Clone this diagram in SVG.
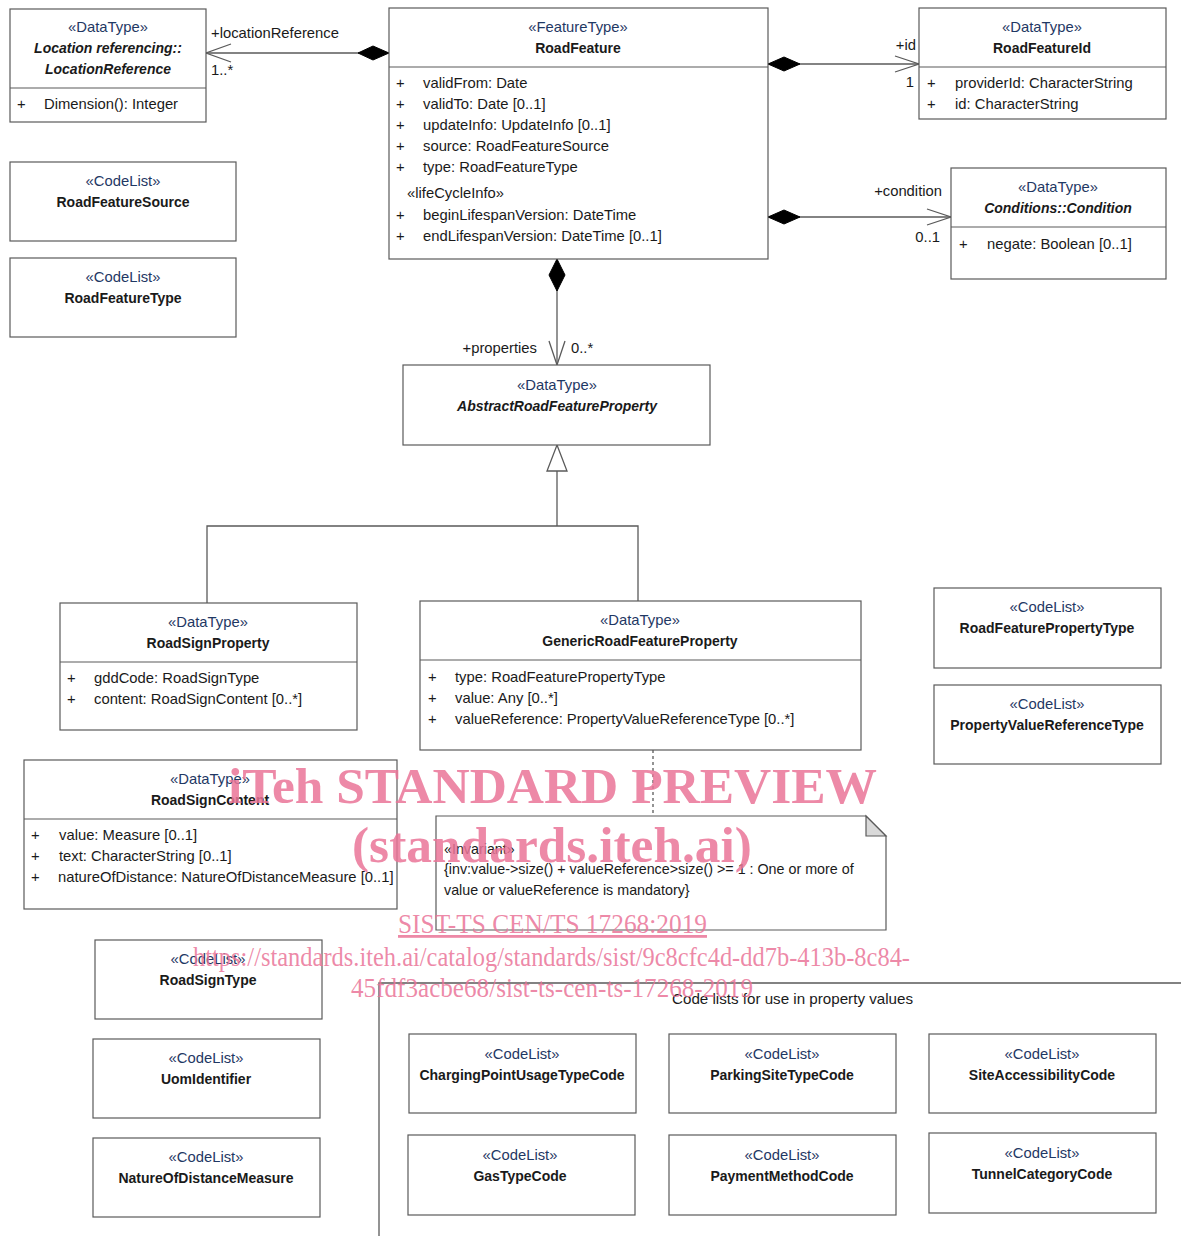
<svg xmlns="http://www.w3.org/2000/svg" width="1181" height="1236" viewBox="0 0 1181 1236">
<style>
text{font-family:"Liberation Sans",Arial,sans-serif;font-size:14.8px;fill:#1a1a1a}
.box{fill:#fff;stroke:#5a5a5a;stroke-width:1.2}
.div{stroke:#5a5a5a;stroke-width:1.2}
.st{fill:#1f3864;text-anchor:middle}
.nm{font-weight:bold;font-size:14px;text-anchor:middle}
.ab{font-weight:bold;font-style:italic;font-size:14px;text-anchor:middle}
.ln{fill:none;stroke:#5a5a5a;stroke-width:1.3}
.dia{fill:#000;stroke:#000;stroke-width:1}
.end{text-anchor:end}
.wm{font-family:"Liberation Serif","Times New Roman",serif;fill:#ea7498;fill-opacity:0.85}
.wmb{font-weight:bold;font-size:50px}
.wms{font-size:28px}
.note{font-size:14.3px}
</style>

<g id="connectors">
  <!-- locationReference -->
  <line class="ln" x1="389" y1="53" x2="206" y2="53"/>
  <polygon class="dia" points="389,53 373,46 358,53 373,60"/>
  <polyline class="ln" points="231,44 206,53 231,62"/>
  <text x="211" y="38">+locationReference</text>
  <text x="211" y="75">1..*</text>
  <!-- id -->
  <line class="ln" x1="768" y1="64" x2="919" y2="64"/>
  <polygon class="dia" points="768,64 784,57 800,64 784,71"/>
  <polyline class="ln" points="895,56 919,64 895,72"/>
  <text x="916" y="50" class="end">+id</text>
  <text x="914" y="87" class="end">1</text>
  <!-- condition -->
  <line class="ln" x1="768" y1="217" x2="951" y2="217"/>
  <polygon class="dia" points="768,217 784,210 800,217 784,224"/>
  <polyline class="ln" points="927,209 951,217 927,225"/>
  <text x="942" y="196" class="end">+condition</text>
  <text x="940" y="242" class="end">0..1</text>
  <!-- properties -->
  <line class="ln" x1="557" y1="259" x2="557" y2="365"/>
  <polygon class="dia" points="557,259 565,275 557,291 549,275"/>
  <polyline class="ln" points="549,341 557,365 565,341"/>
  <text x="537" y="353" class="end">+properties</text>
  <text x="571" y="353">0..*</text>
  <!-- generalization -->
  <polyline class="ln" points="207,603 207,526 638,526 638,601"/>
  <line class="ln" x1="557" y1="526" x2="557" y2="471"/>
  <polygon points="557,445 567,471 547,471" fill="#fff" stroke="#5a5a5a" stroke-width="1.3"/>
  <!-- note link -->
  <line x1="653" y1="750" x2="653" y2="816" stroke="#5a5a5a" stroke-width="1.3" stroke-dasharray="3,3"/>
</g>

<g id="LocationReference">
  <rect class="box" x="10" y="9" width="196" height="113"/>
  <line class="div" x1="10" y1="88" x2="206" y2="88"/>
  <text x="108" y="32" class="st">«DataType»</text>
  <text x="108" y="53" class="ab">Location referencing::</text>
  <text x="108" y="74" class="ab">LocationReference</text>
  <text x="17" y="109">+</text>
  <text x="44" y="109">Dimension(): Integer</text>
</g>

<g id="RoadFeature">
  <rect class="box" x="389" y="8" width="379" height="251"/>
  <line class="div" x1="389" y1="67" x2="768" y2="67"/>
  <text x="578" y="32" class="st">«FeatureType»</text>
  <text x="578" y="53" class="nm">RoadFeature</text>
  <text x="396" y="88">+</text><text x="423" y="88">validFrom: Date</text>
  <text x="396" y="109">+</text><text x="423" y="109">validTo: Date [0..1]</text>
  <text x="396" y="130">+</text><text x="423" y="130">updateInfo: UpdateInfo [0..1]</text>
  <text x="396" y="151">+</text><text x="423" y="151">source: RoadFeatureSource</text>
  <text x="396" y="172">+</text><text x="423" y="172">type: RoadFeatureType</text>
  <text x="407" y="198">«lifeCycleInfo»</text>
  <text x="396" y="220">+</text><text x="423" y="220">beginLifespanVersion: DateTime</text>
  <text x="396" y="241">+</text><text x="423" y="241">endLifespanVersion: DateTime [0..1]</text>
</g>

<g id="RoadFeatureId">
  <rect class="box" x="919" y="8" width="247" height="111"/>
  <line class="div" x1="919" y1="67" x2="1166" y2="67"/>
  <text x="1042" y="32" class="st">«DataType»</text>
  <text x="1042" y="53" class="nm">RoadFeatureId</text>
  <text x="927" y="88">+</text><text x="955" y="88">providerId: CharacterString</text>
  <text x="927" y="109">+</text><text x="955" y="109">id: CharacterString</text>
</g>

<g id="Condition">
  <rect class="box" x="951" y="168" width="215" height="111"/>
  <line class="div" x1="951" y1="227" x2="1166" y2="227"/>
  <text x="1058" y="192" class="st">«DataType»</text>
  <text x="1058" y="213" class="ab">Conditions::Condition</text>
  <text x="959" y="249">+</text><text x="987" y="249">negate: Boolean [0..1]</text>
</g>

<g id="RoadFeatureSource">
  <rect class="box" x="10" y="162" width="226" height="79"/>
  <text x="123" y="186" class="st">«CodeList»</text>
  <text x="123" y="207" class="nm">RoadFeatureSource</text>
</g>

<g id="RoadFeatureType">
  <rect class="box" x="10" y="258" width="226" height="79"/>
  <text x="123" y="282" class="st">«CodeList»</text>
  <text x="123" y="303" class="nm">RoadFeatureType</text>
</g>

<g id="AbstractRoadFeatureProperty">
  <rect class="box" x="403" y="365" width="307" height="80"/>
  <text x="557" y="390" class="st">«DataType»</text>
  <text x="557" y="411" class="ab">AbstractRoadFeatureProperty</text>
</g>

<g id="RoadSignProperty">
  <rect class="box" x="60" y="603" width="297" height="127"/>
  <line class="div" x1="60" y1="662" x2="357" y2="662"/>
  <text x="208" y="627" class="st">«DataType»</text>
  <text x="208" y="648" class="nm">RoadSignProperty</text>
  <text x="67" y="683">+</text><text x="94" y="683">gddCode: RoadSignType</text>
  <text x="67" y="704">+</text><text x="94" y="704">content: RoadSignContent [0..*]</text>
</g>

<g id="GenericRoadFeatureProperty">
  <rect class="box" x="420" y="601" width="441" height="149"/>
  <line class="div" x1="420" y1="660" x2="861" y2="660"/>
  <text x="640" y="625" class="st">«DataType»</text>
  <text x="640" y="646" class="nm">GenericRoadFeatureProperty</text>
  <text x="428" y="682">+</text><text x="455" y="682">type: RoadFeaturePropertyType</text>
  <text x="428" y="703">+</text><text x="455" y="703">value: Any [0..*]</text>
  <text x="428" y="724">+</text><text x="455" y="724">valueReference: PropertyValueReferenceType [0..*]</text>
</g>

<g id="RoadFeaturePropertyType">
  <rect class="box" x="934" y="588" width="227" height="80"/>
  <text x="1047" y="612" class="st">«CodeList»</text>
  <text x="1047" y="633" class="nm">RoadFeaturePropertyType</text>
</g>

<g id="PropertyValueReferenceType">
  <rect class="box" x="934" y="685" width="227" height="79"/>
  <text x="1047" y="709" class="st">«CodeList»</text>
  <text x="1047" y="730" class="nm">PropertyValueReferenceType</text>
</g>

<g id="RoadSignContent">
  <rect class="box" x="24" y="760" width="373" height="149"/>
  <line class="div" x1="24" y1="819" x2="397" y2="819"/>
  <text x="210" y="784" class="st">«DataType»</text>
  <text x="210" y="805" class="nm">RoadSignContent</text>
  <text x="31" y="840">+</text><text x="59" y="840">value: Measure [0..1]</text>
  <text x="31" y="861">+</text><text x="59" y="861">text: CharacterString [0..1]</text>
  <text x="31" y="882">+</text><text x="58" y="882">natureOfDistance: NatureOfDistanceMeasure [0..1]</text>
</g>

<g id="InvariantNote">
  <polygon points="436,816 866,816 886,836 886,930 436,930" fill="#fff" stroke="#5a5a5a" stroke-width="1.2"/>
  <polygon points="866,816 886,836 866,836" fill="#d9d9d9" stroke="#5a5a5a" stroke-width="1.2"/>
  <text x="444" y="854" class="note">«Invariant»</text>
  <text x="444" y="874" class="note">{inv:value-&gt;size() + valueReference&gt;size() &gt;= 1 : One or more of</text>
  <text x="444" y="895" class="note">value or valueReference is mandatory}</text>
</g>

<g id="RoadSignType">
  <rect class="box" x="95" y="940" width="227" height="79"/>
  <text x="208" y="964" class="st">«CodeList»</text>
  <text x="208" y="985" class="nm">RoadSignType</text>
</g>

<g id="UomIdentifier">
  <rect class="box" x="93" y="1039" width="227" height="79"/>
  <text x="206" y="1063" class="st">«CodeList»</text>
  <text x="206" y="1084" class="nm">UomIdentifier</text>
</g>

<g id="NatureOfDistanceMeasure">
  <rect class="box" x="93" y="1138" width="227" height="79"/>
  <text x="206" y="1162" class="st">«CodeList»</text>
  <text x="206" y="1183" class="nm">NatureOfDistanceMeasure</text>
</g>

<g id="CodeListsPackage">
  <polyline points="379,1236 379,983 1181,983" fill="none" stroke="#5a5a5a" stroke-width="1.3"/>
  <text x="672" y="1004" textLength="241" lengthAdjust="spacingAndGlyphs">Code lists for use in property values</text>
</g>

<g id="ChargingPointUsageTypeCode">
  <rect class="box" x="409" y="1034" width="227" height="79"/>
  <text x="522" y="1059" class="st">«CodeList»</text>
  <text x="522" y="1080" class="nm">ChargingPointUsageTypeCode</text>
</g>
<g id="ParkingSiteTypeCode">
  <rect class="box" x="669" y="1034" width="227" height="79"/>
  <text x="782" y="1059" class="st">«CodeList»</text>
  <text x="782" y="1080" class="nm">ParkingSiteTypeCode</text>
</g>
<g id="SiteAccessibilityCode">
  <rect class="box" x="929" y="1034" width="227" height="79"/>
  <text x="1042" y="1059" class="st">«CodeList»</text>
  <text x="1042" y="1080" class="nm">SiteAccessibilityCode</text>
</g>
<g id="GasTypeCode">
  <rect class="box" x="408" y="1135" width="227" height="80"/>
  <text x="520" y="1160" class="st">«CodeList»</text>
  <text x="520" y="1181" class="nm">GasTypeCode</text>
</g>
<g id="PaymentMethodCode">
  <rect class="box" x="669" y="1135" width="227" height="80"/>
  <text x="782" y="1160" class="st">«CodeList»</text>
  <text x="782" y="1181" class="nm">PaymentMethodCode</text>
</g>
<g id="TunnelCategoryCode">
  <rect class="box" x="929" y="1133" width="227" height="80"/>
  <text x="1042" y="1158" class="st">«CodeList»</text>
  <text x="1042" y="1179" class="nm">TunnelCategoryCode</text>
</g>

<g id="watermark">
  <text class="wm wmb" x="228" y="803" textLength="649" lengthAdjust="spacingAndGlyphs">iTeh STANDARD PREVIEW</text>
  <text class="wm wmb" x="352" y="862" textLength="400" lengthAdjust="spacingAndGlyphs">(standards.iteh.ai)</text>
  <text class="wm wms" x="398" y="933" textLength="309" lengthAdjust="spacingAndGlyphs" text-decoration="underline">SIST-TS CEN/TS 17268:2019</text>
  <text class="wm wms" x="193" y="966" textLength="717" lengthAdjust="spacingAndGlyphs">https://standards.iteh.ai/catalog/standards/sist/9c8cfc4d-dd7b-413b-8c84-</text>
  <text class="wm wms" x="351" y="997" textLength="402" lengthAdjust="spacingAndGlyphs">45fdf3acbe68/sist-ts-cen-ts-17268-2019</text>
</g>
</svg>
